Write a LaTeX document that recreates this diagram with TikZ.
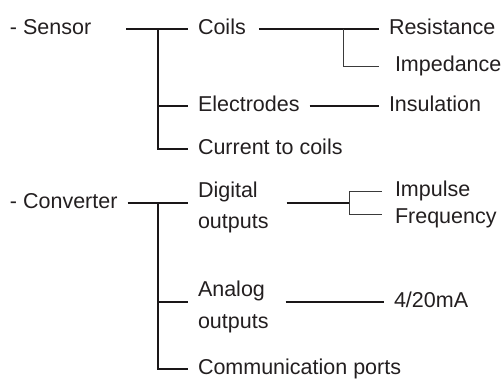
\documentclass[tikz,border=0pt]{standalone}
\usepackage{fontspec}
\setmainfont{Liberation Sans}
\usepackage{tikz}
\definecolor{inktext}{HTML}{231F20}
\definecolor{inkline}{HTML}{1A1718}
\definecolor{twigline}{HTML}{3A3A3A}
\tikzset{
  itemnode/.style={anchor=west,inner sep=0pt,outer xsep=5pt,outer ysep=0pt,text height=5pt,text depth=0pt,text=inktext,font=\fontsize{10.75}{15.65}\selectfont},
  pairnode/.style={itemnode,align=left,text height=25.7pt,text depth=0pt},
  link/.style={line width=1pt,inkline},
  twig/.style={line width=0.5pt,twigline}
}

\begin{document}
\begin{tikzpicture}[x=0.5pt,y=-0.5pt]
  \useasboundingbox (0,0) rectangle (504,380);

  % Sensor branch
  \node[itemnode] (sensor) at (0,29.3) {- Sensor};
  \node[itemnode] (coils) at (188,29.3) {Coils};
  \node[itemnode] (resistance) at (379,29.3) {Resistance};
  \node[itemnode] (impedance) at (385,66.7) {Impedance};
  \node[itemnode] (electrodes) at (188,106) {Electrodes};
  \node[itemnode] (insulation) at (379,106) {Insulation};
  \node[itemnode] (current) at (188,149) {Current to coils};
  \coordinate (sensorfork) at (158,29.3);
  \coordinate (coilsfork) at (343,29.3);

  \draw[link,shorten <=12.5pt] (sensor.east) -- (coils.west);
  \draw[link] (sensorfork) |- (electrodes.west);
  \draw[link] (sensorfork) |- (current.west);
  \draw[link,shorten <=1.5pt] (coils.east) -- (resistance.west);
  \draw[twig,shorten >=3pt] (coilsfork) |- (impedance.west);
  \draw[link] (electrodes.east) -- (insulation.west);

  % Converter branch
  \node[itemnode] (converter) at (0,203) {- Converter};
  \node[pairnode] (digital) at (188,203) {Digital\\outputs};
  \node[itemnode] (impulse) at (385,191.7) {Impulse};
  \node[itemnode] (frequency) at (385,218.3) {Frequency};
  \node[pairnode] (analog) at (188,302.3) {Analog\\outputs};
  \node[itemnode] (fourtwenty) at (384,302.3) {4/20mA};
  \node[itemnode] (comm) at (188,369) {Communication ports};
  \coordinate (converterfork) at (158,203);
  \coordinate (digitalfork) at (349,203);

  \draw[link] (converter.east) -- (digital.west);
  \draw[link] (converterfork) |- (analog.west);
  \draw[link] (converterfork) |- (comm.west);
  \draw[link,shorten <=4pt] (digital.east) -- (digitalfork);
  \draw[twig,shorten >=1.5pt] (digitalfork) |- (impulse.west);
  \draw[twig,shorten >=1.5pt] (digitalfork) |- ([yshift=2.15pt]frequency.west);
  \draw[link,shorten <=3.5pt] (analog.east) -- (fourtwenty.west);
\end{tikzpicture}
\end{document}
